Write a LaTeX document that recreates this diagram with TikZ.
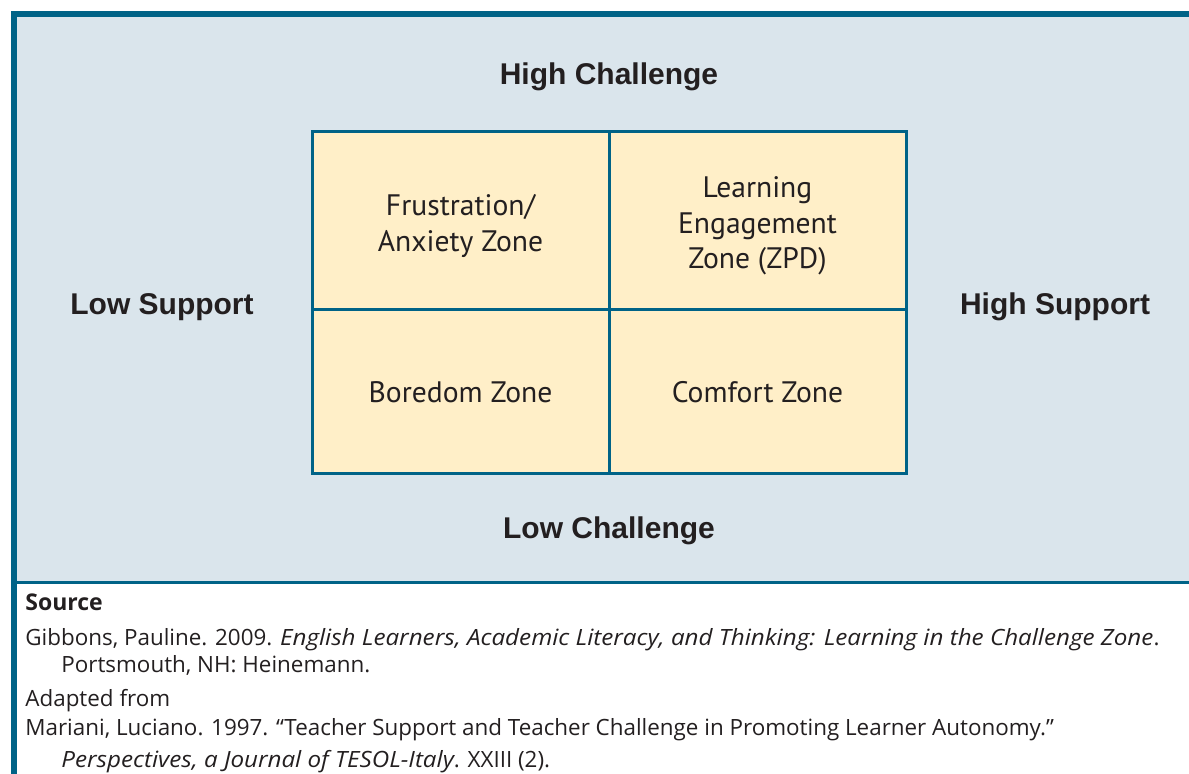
\documentclass[tikz,border=0pt]{standalone}
\usepackage{fontspec}
\setmainfont{PT Sans}
\newfontfamily\labelfont{Liberation Sans}
\newfontfamily\reffont[ItalicFeatures={FakeStretch=1.08}]{Open Sans}
\usetikzlibrary{positioning}
\definecolor{frameblue}{RGB}{0,99,135}
\definecolor{bgblue}{RGB}{218,229,236}
\definecolor{zonefill}{RGB}{255,239,200}
\definecolor{inkgray}{RGB}{35,31,32}
\newcommand{\zonestrut}{\rule{0pt}{16pt}}
\tikzset{
  zone/.style={draw=frameblue, fill=zonefill, line width=1.5pt, outer sep=0pt, inner sep=0pt,
    minimum width=148.5pt, align=center, text=inkgray, font=\fontsize{14.8}{17.75}\selectfont},
  axislabel/.style={anchor=base, text=inkgray, font=\labelfont\bfseries\fontsize{15}{18}\selectfont},
  refline/.style={anchor=base west, inner sep=0pt, text=inkgray, font=\reffont\fontsize{11.2}{13}\selectfont}
}

\begin{document}
\begin{tikzpicture}[x=0.5pt, y=-0.5pt, node distance=0pt]
  \useasboundingbox (0,0) rectangle (1189,774);
  \fill[bgblue] (17,17) rectangle (1189,581);
  \fill[frameblue] (11,11) rectangle (1189,17);
  \fill[frameblue] (11,11) rectangle (17,774);
  \fill[frameblue] (17,581) rectangle (1189,584);

  \node[zone, minimum height=88.75pt] (frus) at (460.5,220.75) {\zonestrut Frustration/\\Anxiety Zone};
  \node[zone, minimum height=88.75pt, right=of frus] (learn) {\zonestrut Learning\\Engagement\\Zone (ZPD)};
  \node[zone, minimum height=82.25pt, below=of frus] (bore) {Boredom Zone};
  \node[zone, minimum height=82.25pt, right=of bore] (comf) {Comfort Zone};

  \node[axislabel] (hichal) at (609,84.3) {High Challenge};
  \node[axislabel] (lochal) at (609,539) {Low Challenge};
  \node[axislabel] (losup) at (162,315) {Low Support};
  \node[axislabel] (hisup) at (1055,315) {High Support};

  \node[refline, font=\reffont\bfseries\fontsize{11.5}{13}\selectfont] (src) at (25,610.7) {Source};
  \node[refline] (gib1) at (25,646) {Gibbons, Pauline. 2009. \textit{English Learners, Academic Literacy, and Thinking: Learning in the Challenge Zone}.};
  \node[refline] (gib2) at (61,672.7) {Portsmouth, NH: Heinemann.};
  \node[refline] (adapt) at (25,706.7) {Adapted from};
  \node[refline] (mar1) at (25,735) {Mariani, Luciano. 1997. “Teacher Support and Teacher Challenge in Promoting Learner Autonomy.”};
  \node[refline] (mar2) at (61,767) {\textit{Perspectives, a Journal of TESOL-Italy}. XXIII (2).};
\end{tikzpicture}
\end{document}
